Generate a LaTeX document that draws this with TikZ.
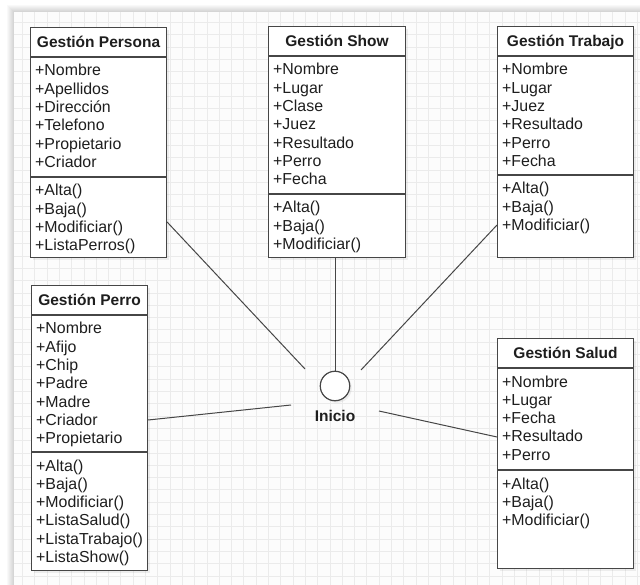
\documentclass[tikz,border=0pt]{standalone}
\usepackage{fontspec}
\setmainfont{Liberation Sans}
\usetikzlibrary{calc,shadows}
\definecolor{gridcol}{HTML}{EBEBEB}
\definecolor{paper}{HTML}{FCFCFC}
\definecolor{edgecol}{HTML}{464646}
\definecolor{txtcol}{HTML}{1E1E1E}
\tikzset{
  umlbox/.style={rectangle, draw=edgecol, line width=1.1pt, fill=white, inner sep=0pt,
    anchor=north west, drop shadow={shadow xshift=2pt, shadow yshift=-2pt, opacity=0.12}},
  edge/.style={draw=edgecol, line width=1.1pt},
  link/.style={draw=edgecol, line width=1pt},
  hdr/.style={inner sep=0pt, text=txtcol, font=\fontsize{15.5}{18}\selectfont\bfseries},
  member/.style={inner sep=0pt, anchor=base west, text=txtcol, font=\fontsize{15.9}{18}\selectfont},
  gridline/.style={draw=gridcol, line width=0.8pt},
}
% #1 name, #2 x, #3 y, #4 width, #5 height, #6 title,
% #7 offset of the operations separator, #8 attributes, #9 operations
\newcommand\umlclass[9]{%
  \node[umlbox, minimum width=#4pt, minimum height=#5pt] (#1) at (#2,#3) {};
  \node[hdr, anchor=base] (#1-t) at ($(#1.north)+(0,21)$) {#6};
  \draw[edge] ($(#1.north west)+(0,30)$) -- ($(#1.north east)+(0,30)$);
  \draw[edge] ($(#1.north west)+(0,#7)$) -- ($(#1.north east)+(0,#7)$);
  \foreach \m [count=\i from 0] in {#8}
    \node[member] (#1-a\i) at ($(#1.north west)+(5,49+\i*18.3)$) {\m};
  \foreach \m [count=\i from 0] in {#9}
    \node[member] (#1-o\i) at ($(#1.north west)+(5,#7+19+\i*18.3)$) {\m};
}
\begin{document}
\begin{tikzpicture}[x=1pt, y=-1pt]
  \useasboundingbox (0,0) rectangle (640,585);
  \fill[white] (0,0) rectangle (640,585);
  % soft shadow along the sheet edges
  \foreach \k in {1,...,7}
    \fill[black, opacity=0.022] (14-\k,12-\k) rectangle (640,585);
  \fill[paper] (14,12) rectangle (640,585);
  % background grid
  \foreach \g in {22.4,34.7,...,640}
    \draw[gridline] (\g,12) -- (\g,585);
  \foreach \g in {22.4,34.7,...,585}
    \draw[gridline] (14,\g) -- (640,\g);

  % classes
  \umlclass{persona}{30}{27}{136}{230}{Gestión Persona}{150}
    {+Nombre,+Apellidos,+Dirección,+Telefono,+Propietario,+Criador}
    {+Alta(),+Baja(),+Modificiar(),+ListaPerros()}
  \umlclass{show}{268}{26}{137}{231}{Gestión Show}{168}
    {+Nombre,+Lugar,+Clase,+Juez,+Resultado,+Perro,+Fecha}
    {+Alta(),+Baja(),+Modificiar()}
  \umlclass{trabajo}{497}{26}{136}{231}{Gestión Trabajo}{149}
    {+Nombre,+Lugar,+Juez,+Resultado,+Perro,+Fecha}
    {+Alta(),+Baja(),+Modificiar()}
  \umlclass{perro}{31}{285}{116}{285}{Gestión Perro}{167}
    {+Nombre,+Afijo,+Chip,+Padre,+Madre,+Criador,+Propietario}
    {+Alta(),+Baja(),+Modificiar(),+ListaSalud(),+ListaTrabajo(),+ListaShow()}
  \umlclass{salud}{497}{338}{136}{230}{Gestión Salud}{132}
    {+Nombre,+Lugar,+Fecha,+Resultado,+Perro}
    {+Alta(),+Baja(),+Modificiar()}

  % start node
  \node[circle, draw=edgecol, line width=1.2pt, fill=white, minimum size=29.5pt, inner sep=0pt,
        drop shadow={shadow xshift=2pt, shadow yshift=-2pt, opacity=0.12}] (ini) at (335,386) {};
  \node[hdr, anchor=base] (ini-l) at (335,421) {Inicio};

  % loose ends of the links near the start node
  \coordinate (e-persona) at (305,369);
  \coordinate (e-trabajo) at (361,370);
  \coordinate (e-perro) at (291,405);
  \coordinate (e-salud) at (379,411);

  \draw[link] ($(persona.north east)+(0,195)$) -- (e-persona);
  \draw[link] (ini.north) -- (ini.north |- show.south);
  \draw[link] ($(trabajo.north west)+(0,199)$) -- (e-trabajo);
  \draw[link] ($(perro.north east)+(0,135)$) -- (e-perro);
  \draw[link] ($(salud.north west)+(0,99)$) -- (e-salud);
\end{tikzpicture}
\end{document}
